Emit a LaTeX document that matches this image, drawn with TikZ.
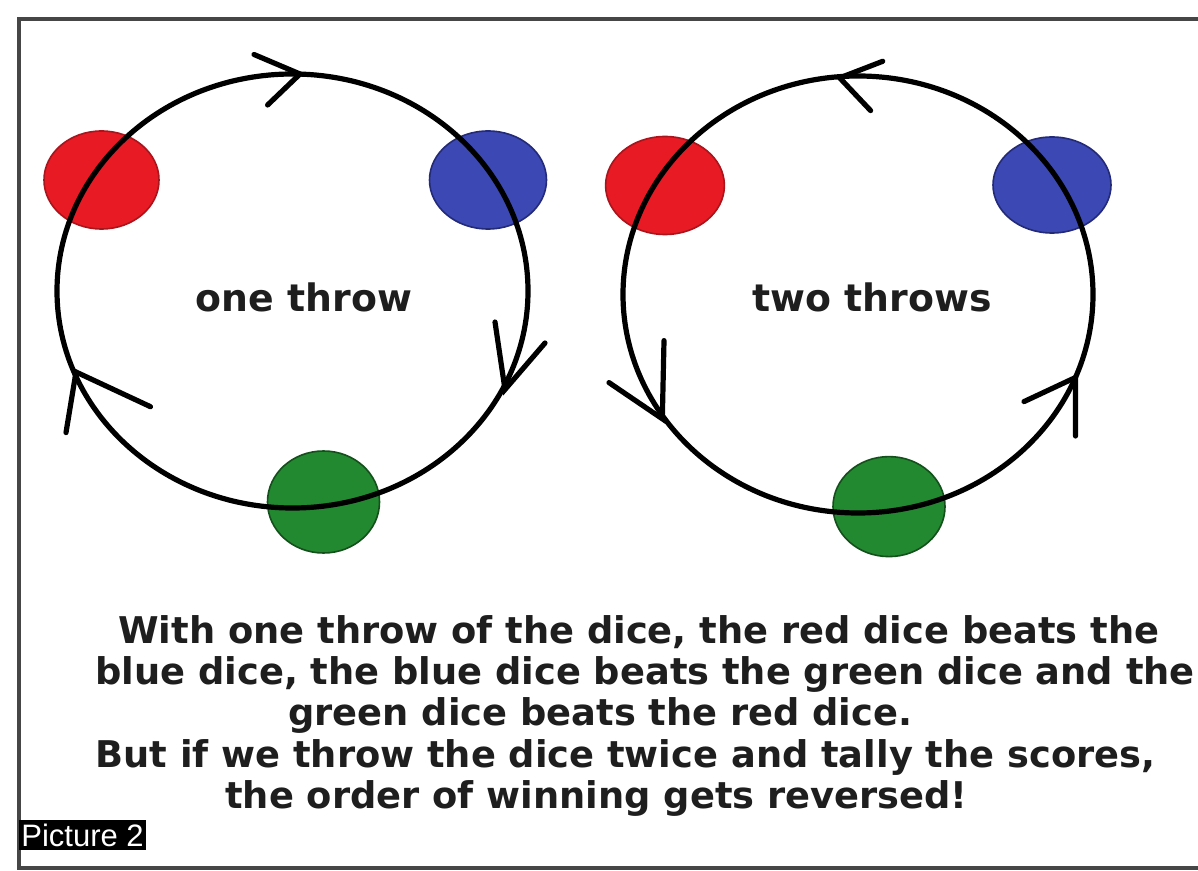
\documentclass[tikz,border=0pt]{standalone}
\usepackage{fontspec}
\setmainfont{DejaVu Sans}
\newfontfamily\picfont{Liberation Sans}
\usetikzlibrary{shapes.geometric}
\definecolor{dred}{RGB}{232,26,36}
\definecolor{dredb}{RGB}{170,20,28}
\definecolor{dblue}{RGB}{60,72,180}
\definecolor{dblueb}{RGB}{35,42,120}
\definecolor{dgreen}{RGB}{34,137,48}
\definecolor{dgreenb}{RGB}{20,80,28}
\definecolor{frame}{RGB}{70,70,70}
\definecolor{ink}{RGB}{30,30,30}
\tikzset{
  dot/.style={ellipse, draw, line width=0.8pt, inner sep=0pt},
  ring/.style={line width=2.6pt, black},
  head/.style={line width=2.6pt, black, line join=miter, line cap=round},
  lbl/.style={font=\fontsize{18.9}{22}\selectfont\bfseries, text=ink, inner sep=0pt, anchor=base},
  body/.style={font=\fontsize{18.4}{22}\selectfont\bfseries, text=ink, inner sep=0pt, anchor=base west},
  border/.style={line width=1.6pt, frame}
}
\begin{document}
\begin{tikzpicture}[x=0.5pt,y=-0.5pt]
\useasboundingbox (0,0) rectangle (1198,871);
\fill[white] (0,0) rectangle (1198,871);
% frame
\coordinate (ftl) at (19,19);
\coordinate (ftr) at (1198,19);
\coordinate (fbl) at (19,868);
\coordinate (fbr) at (1198,868);
\draw[border] (ftr) -- (ftl) -- (fbl) -- (fbr);

% left diagram dots
\node[dot, fill=dred, draw=dredb, minimum width=57.5pt, minimum height=49pt] (r1) at (101.5,180) {};
\node[dot, fill=dblue, draw=dblueb, minimum width=58.5pt, minimum height=49pt] (b1) at (488,180) {};
\node[dot, fill=dgreen, draw=dgreenb, minimum width=56pt, minimum height=51pt] (g1) at (323.5,502) {};
% left ring
\coordinate (c1) at (292.5,291);
\draw[ring] (c1) ellipse [x radius=235.5, y radius=217];
% left arrowheads
\coordinate (lt1) at (254,54.5); \coordinate (lt) at (300,74); \coordinate (lt2) at (267.6,105);
\draw[head] (lt1) -- (lt) -- (lt2);
\coordinate (lr1) at (495,322); \coordinate (lr) at (505,389.5); \coordinate (lr2) at (545,343);
\draw[head] (lr1) -- (lr) -- (lr2);
\coordinate (ll1) at (66,432.6); \coordinate (ll) at (76,372); \coordinate (ll2) at (150.5,406.7);
\draw[head] (ll1) -- (ll) -- (ll2);
\node[lbl] (t1) at (304,312) {one throw};

% right diagram dots
\node[dot, fill=dred, draw=dredb, minimum width=59.4pt, minimum height=49pt] (r2) at (665,185.5) {};
\node[dot, fill=dblue, draw=dblueb, minimum width=59pt, minimum height=48pt] (b2) at (1052,185) {};
\node[dot, fill=dgreen, draw=dgreenb, minimum width=56pt, minimum height=50pt] (g2) at (889,506.6) {};
% right ring
\coordinate (c2) at (858,294.5);
\draw[ring] (c2) ellipse [x radius=235, y radius=218.5];
% right arrowheads
\coordinate (rt1) at (882.7,61.3); \coordinate (rt) at (839.7,77.9); \coordinate (rt2) at (870.6,110.6);
\draw[head] (rt1) -- (rt) -- (rt2);
\coordinate (rl1) at (664,340.6); \coordinate (rl) at (662.3,418.8); \coordinate (rl2) at (609,382.6);
\draw[head] (rl1) -- (rl) -- (rl2);
\coordinate (rr1) at (1075.5,436); \coordinate (rr) at (1075.5,377.5); \coordinate (rr2) at (1024,401.6);
\draw[head] (rr1) -- (rr) -- (rr2);
\node[lbl] (t2) at (872,312) {two throws};

% caption text
\node[body] (l1) at (118,643) {With one throw of the dice, the red dice beats the};
\node[body] (l2) at (95,684) {blue dice, the blue dice beats the green dice and the};
\node[body] (l3) at (288,725) {green dice beats the red dice.};
\node[body] (l4) at (95,767) {But if we throw the dice twice and tally the scores,};
\node[body] (l5) at (225,808) {the order of winning gets reversed!};

% picture tag
\node[fill=black, text=white, inner xsep=1pt, inner ysep=0pt, minimum height=15pt, anchor=west,
  font=\picfont\fontsize{15.5}{16}\selectfont] (tag) at (19,835) {Picture 2};
\end{tikzpicture}
\end{document}
